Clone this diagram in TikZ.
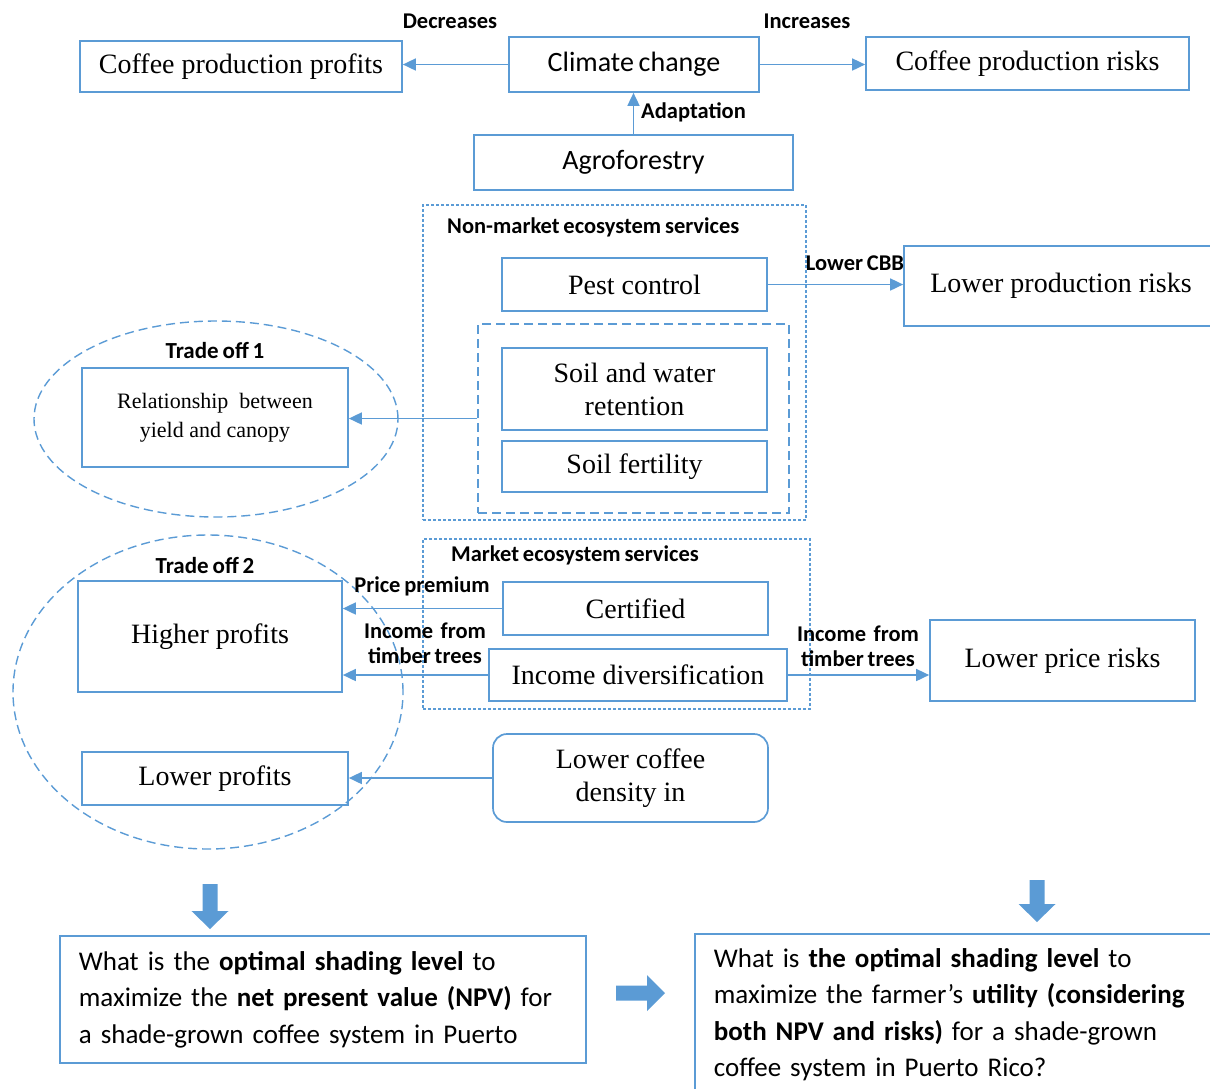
\documentclass[tikz,border=0pt]{standalone}
\usepackage{fontspec}
\setmainfont{Liberation Serif}
\newfontfamily\calfont[WordSpace=0.75]{Carlito}
\usetikzlibrary{arrows.meta,shapes.geometric}
\definecolor{bl}{RGB}{91,155,213}
\begin{document}
\begin{tikzpicture}[x=1pt,y=-1pt,
 box/.style={draw=bl,line width=1.7pt,rectangle,inner sep=0pt,align=center,font=\fontsize{28}{33}\selectfont},
 sbox/.style={box,font=\calfont\fontsize{28}{30}\selectfont},
 lbl/.style={font=\calfont\bfseries\fontsize{22.5}{25}\selectfont,inner sep=0pt,align=center},
 arr/.style={draw=bl,line width=1.7pt,-{Triangle[length=13pt,width=12pt]}},
 dotbox/.style={draw=bl,line width=1.2pt,dash pattern=on 3pt off 2pt,rectangle,inner sep=0pt},
 dsh/.style={draw=bl,line width=1.4pt,dash pattern=on 9pt off 5pt,inner sep=0pt},
 qbox/.style={box,align=left,font=\calfont\fontsize{27}{36.5}\selectfont}
]
\useasboundingbox (0,0) rectangle (1210,1088);
\clip (0,0) rectangle (1210,1088);

% top row
\node[box,minimum width=322,minimum height=51] (cpp) at (241,66.5) {Coffee production profits};
\node[sbox,minimum width=250,minimum height=55] (cc) at (634,64.5) {Climate change};
\node[box,minimum width=323,minimum height=53] (cpr) at (1027.5,63.5) {Coffee production risks};
\node[sbox,minimum width=319,minimum height=55] (agro) at (633.5,162.5) {Agroforestry};
\draw[arr] (cc.west) -- (cc.west -| cpp.east);
\draw[arr] (cc.east) -- (cc.east -| cpr.west);
\draw[arr] (agro.north) -- (agro.north |- cc.south);
\node[lbl] (dec) at (450,21) {Decreases};
\node[lbl] (inc) at (807,21) {Increases};
\node[lbl,anchor=west] (adp) at (641,112) {Adaptation};

% non-market
\node[dotbox,minimum width=383,minimum height=315] (nm) at (614.5,362.5) {};
\node[lbl,anchor=west] (nmt) at (447,227) {Non-market ecosystem services};
\node[box,minimum width=265,minimum height=53] (pest) at (634.5,284.5) {Pest control};
\node[dsh,rectangle,minimum width=311,minimum height=189] (inner) at (633.5,418.5) {};
\node[box,minimum width=265,minimum height=82] (swr) at (634.5,389) {Soil and water\\retention};
\node[box,minimum width=265,minimum height=51] (sf) at (634.5,466.5) {Soil fertility};
\node[box,minimum width=314,minimum height=80] (lpr) at (1061,286) {Lower production risks};
\draw[arr] (pest.east) -- (pest.east -| lpr.west);
\node[lbl] (cbb) at (855,263) {Lower CBB};

% trade off 1
\node[dsh,ellipse,minimum width=364,minimum height=196] (e1) at (216,419) {};
\node[box,minimum width=266,minimum height=99,font=\fontsize{22}{29}\selectfont] (rel) at (215,417.5) {Relationship\ \ between\\yield and canopy};
\node[lbl,font=\calfont\bfseries\fontsize{23}{25}\selectfont] (t1) at (215,350) {Trade off 1};
\draw[arr] (inner.west) -- (inner.west -| rel.east);

% market
\node[dotbox,minimum width=387,minimum height=170] (mk) at (616.5,624) {};
\node[lbl,anchor=west] (mkt) at (451,555) {Market ecosystem services};
\node[box,minimum width=265,minimum height=53] (cert) at (635.5,608.5) {Certified};
\node[box,minimum width=298,minimum height=52] (idv) at (638,675) {Income diversification};
\node[box,minimum width=264,minimum height=111] (hp) at (210,636.5) {Higher profits};
\node[box,minimum width=266,minimum height=53] (lp) at (215,778.5) {Lower profits};
\node[dsh,ellipse,minimum width=390,minimum height=314] (e2) at (208,692) {};
\node[lbl,font=\calfont\bfseries\fontsize{23}{25}\selectfont] (t2) at (205,565) {Trade off 2};
\node[box,minimum width=265,minimum height=81] (lpr2) at (1062.5,660.5) {Lower price risks};
\node[box,rounded corners=14pt,minimum width=275,minimum height=88] (lcd) at (630.5,778) {Lower coffee\\density in};
\draw[arr] (cert.west) -- (cert.west -| hp.east);
\draw[arr] (idv.west) -- (idv.west -| hp.east);
\draw[arr] (idv.east) -- (idv.east -| lpr2.west);
\draw[arr] (lcd.west) -- (lcd.west -| lp.east);
\node[lbl] (pp) at (422,586) {Price premium};
\node[lbl] (if1) at (425,643) {Income\ \ from\\timber trees};
\node[lbl] (if2) at (858,646) {Income\ \ from\\timber trees};

% block arrows
\fill[bl] (202.5,884) -- (217.5,884) -- (217.5,911) -- (228.5,911) -- (210,929) -- (191.5,911) -- (202.5,911) -- cycle;
\fill[bl] (1029.5,880) -- (1044.5,880) -- (1044.5,904) -- (1055.5,904) -- (1037,922) -- (1018.5,904) -- (1029.5,904) -- cycle;
\fill[bl] (616,985.5) -- (647,985.5) -- (647,975) -- (665,993) -- (647,1011) -- (647,1000.5) -- (616,1000.5) -- cycle;

% questions
\node[qbox,anchor=north west,minimum width=526,minimum height=127,text width=488] (q1) at (59,935) {What is the \textbf{optimal shading level} to\\maximize the \textbf{net present value (NPV)} for\\a shade-grown coffee system in Puerto};
\node[qbox,anchor=north west,minimum width=530,minimum height=162,text width=492] (q2) at (694,933) {What is \textbf{the optimal shading level} to\\maximize the farmer’s \textbf{utility (considering}\\\textbf{both NPV and risks)} for a shade-grown\\coffee system in Puerto Rico?};
\end{tikzpicture}
\end{document}
